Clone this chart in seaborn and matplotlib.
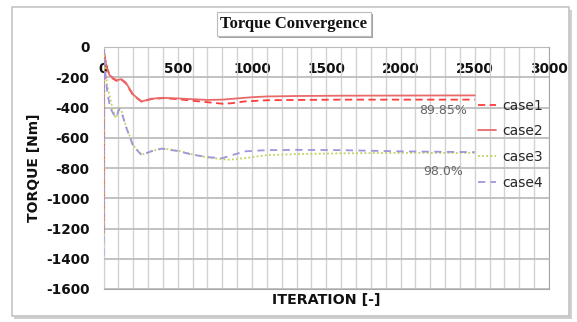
import matplotlib
matplotlib.use("Agg")
import matplotlib.pyplot as plt
import seaborn as sns
import pandas as pd
import numpy as np
from matplotlib.patches import Rectangle
import matplotlib.patheffects as pe

# ---------------- data ----------------
cases = ["case1", "case2", "case3", "case4"]

iter1 = [0, 3, 8, 20, 40, 64, 90, 120, 150, 200, 257, 320, 400, 500, 600, 700, 800, 860, 950, 1100, 1300, 1600, 2000, 2500]
torque1 = [-1230, -20, -60, -130, -180, -210, -225, -215, -240, -320, -362, -345, -338, -345, -355, -365, -375, -372, -360, -352, -350, -348, -348, -348]

iter2 = [0, 3, 8, 20, 40, 64, 90, 120, 150, 200, 257, 320, 400, 500, 600, 700, 800, 900, 1000, 1100, 1300, 1600, 2000, 2500]
torque2 = [-1230, -25, -65, -135, -185, -205, -220, -212, -235, -315, -360, -342, -336, -340, -345, -350, -348, -340, -332, -327, -324, -322, -321, -320]

iter3 = [0, 3, 10, 25, 45, 65, 82, 95, 104, 120, 150, 200, 257, 320, 392, 500, 600, 700, 800, 850, 950, 1100, 1300, 1600, 2000, 2500]
torque3 = [-1300, -30, -120, -250, -340, -420, -470, -440, -405, -420, -520, -650, -712, -690, -670, -685, -710, -730, -742, -745, -735, -715, -708, -703, -700, -700]

iter4 = [0, 3, 10, 25, 45, 65, 82, 95, 104, 120, 150, 200, 257, 320, 392, 500, 600, 700, 800, 850, 950, 1100, 1300, 1600, 2000, 2500]
torque4 = [-1380, -20, -150, -300, -400, -440, -465, -440, -410, -425, -525, -655, -715, -690, -672, -688, -712, -728, -735, -720, -690, -682, -680, -682, -690, -695]

x_ticks = [0, 500, 1000, 1500, 2000, 2500, 3000]
y_ticks = [0, -200, -400, -600, -800, -1000, -1200, -1400, -1600]
annotations = ["89.85%", "98.0%"]
annot_x = [2285, 2285]
annot_y = [-420, -822]

# ---------------- build table ----------------
frames = []
for name, xs, ys in zip(cases, [iter1, iter2, iter3, iter4], [torque1, torque2, torque3, torque4]):
    frames.append(pd.DataFrame({"iteration": xs, "torque": ys, "case": name}))
df = pd.concat(frames, ignore_index=True)

palette = {"case1": "#ff3b3b", "case2": "#e86a6a", "case3": "#bcd35a", "case4": "#a393dc"}
dashes = {"case1": (4, 2.5), "case2": "", "case3": (1, 1.3), "case4": (4, 3)}

sns.set_style("white")
plt.rcParams["font.family"] = ["DejaVu Sans"]

fig = plt.figure(figsize=(5.77, 3.22), dpi=100)
fig.patch.set_facecolor("white")

# background axes holding the outer chart frame with its shadow
bg = fig.add_axes([0, 0, 1, 1], zorder=-5)
bg.set_xlim(0, 577)
bg.set_ylim(322, 0)
bg.axis("off")
bg.add_patch(Rectangle((14, 10), 558, 309, facecolor="#d0d0d0", edgecolor="none"))
bg.add_patch(Rectangle((12, 7), 557, 309, facecolor="white", edgecolor="#c4c4c4", linewidth=1.2))

ax = fig.add_axes([103.5 / 577, 1 - 289 / 322, 445.5 / 577, 242 / 322], zorder=1)
ax.set_facecolor("none")

sns.lineplot(data=df, x="iteration", y="torque", hue="case", style="case",
             palette=palette, dashes=dashes, linewidth=1.3, ax=ax, sort=False,
             estimator=None, legend=True, zorder=3)

ax.set_xlim(0, 3000)
ax.set_ylim(-1600, 0)
ax.set_xticks(x_ticks)
ax.set_yticks(y_ticks)
ax.set_yticklabels([str(v) for v in y_ticks])
ax.set_xticks(np.arange(x_ticks[0], x_ticks[-1] + 1, 100), minor=True)

ax.tick_params(axis="x", which="both", bottom=False, top=False, labelbottom=False,
               labeltop=True, length=0, pad=-21, labelsize=9.8)
ax.tick_params(axis="y", which="both", length=0, pad=10, labelsize=9.8)
for lab in ax.get_xticklabels() + ax.get_yticklabels():
    lab.set_fontweight("bold")
    lab.set_color("#111111")

# grid sits above any filled background artist but below the data lines (zorder 3)
ax.set_axisbelow(False)
ax.yaxis.grid(True, which="major", color="#bdbdbd", linewidth=1.3, linestyle="-", alpha=1)
ax.xaxis.grid(True, which="both", color="#d2d2d2", linewidth=1.0, linestyle="-", alpha=1)

for s in ax.spines.values():
    s.set_color("#a8a8a8")
    s.set_linewidth(0.8)

ax.set_xlabel("")
ax.set_ylabel("")
fig.text(326 / 577, 1 - 300 / 322, "ITERATION [-]", ha="center", va="center",
         fontsize=10.3, fontweight="bold", color="#111111")
fig.text(34 / 577, 1 - 168 / 322, "TORQUE [Nm]", ha="center", va="center",
         rotation=90, fontsize=10, fontweight="bold", color="#111111")

# title with shadowed box
t = fig.text(294 / 577, 1 - 24 / 322, "Torque Convergence", ha="center", va="center",
             fontsize=12, fontweight="bold", family="Liberation Serif", color="#111111",
             bbox=dict(boxstyle="square,pad=0.22", facecolor="white", edgecolor="#bbbbbb", linewidth=0.8))
t.get_bbox_patch().set_path_effects([pe.withSimplePatchShadow(offset=(1.5, -1.5), shadow_rgbFace="#888888", alpha=0.8)])

for txt, xx, yy in zip(annotations, annot_x, annot_y):
    ax.text(xx, yy, txt, ha="center", va="center", fontsize=9, color="#666666", zorder=4)

handles, labels = ax.get_legend_handles_labels()
handles = handles[-4:]
labels = labels[-4:]
ax.legend(handles, labels, loc="upper left", bbox_to_anchor=(0.84, 0.787),
          frameon=False, fontsize=10, handlelength=1.3, handletextpad=0.5,
          labelspacing=0.85, borderpad=0, borderaxespad=0)

fig.savefig("out.png", dpi=100, facecolor="white")
